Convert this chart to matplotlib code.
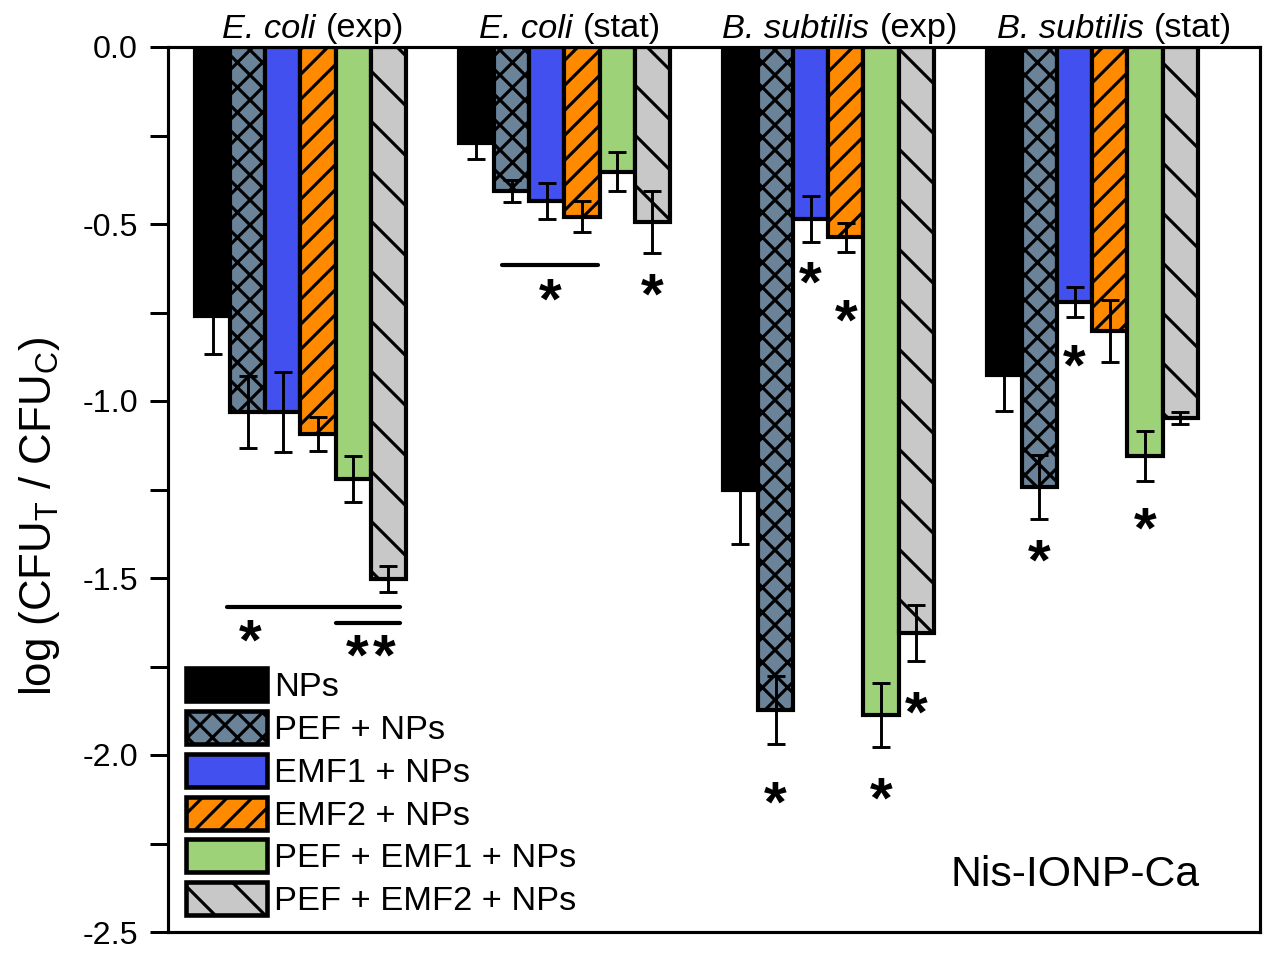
import numpy as np
import matplotlib
matplotlib.use("Agg")
import matplotlib.pyplot as plt
from matplotlib import transforms
from matplotlib.offsetbox import AnnotationBbox, HPacker, TextArea

plt.rcParams["font.family"] = ["Liberation Sans", "DejaVu Sans"]
plt.rcParams["mathtext.fontset"] = "custom"
plt.rcParams["mathtext.rm"] = "Liberation Sans"
plt.rcParams["mathtext.it"] = "Liberation Sans:italic"
plt.rcParams["hatch.linewidth"] = 1.5
plt.rcParams["hatch.color"] = "black"

# groups along x
species = ["E. coli", "E. coli", "B. subtilis", "B. subtilis"]
phases = ["(exp)", "(stat)", "(exp)", "(stat)"]
treatments = ["NPs", "PEF + NPs", "EMF1 + NPs", "EMF2 + NPs",
              "PEF + EMF1 + NPs", "PEF + EMF2 + NPs"]

# log(CFU_T / CFU_C), one value per strain
nps = [-0.76, -0.271, -1.251, -0.927]
nps_err = [0.107, 0.045, 0.153, 0.100]
pef = [-1.031, -0.407, -1.873, -1.243]
pef_err = [0.103, 0.031, 0.095, 0.090]
emf1 = [-1.031, -0.435, -0.486, -0.720]
emf1_err = [0.114, 0.052, 0.065, 0.042]
emf2 = [-1.093, -0.480, -0.537, -0.802]
emf2_err = [0.047, 0.044, 0.041, 0.088]
pef_emf1 = [-1.220, -0.353, -1.887, -1.155]
pef_emf1_err = [0.065, 0.055, 0.089, 0.070]
pef_emf2 = [-1.503, -0.494, -1.655, -1.048]
pef_emf2_err = [0.037, 0.088, 0.079, 0.018]

values = [nps, pef, emf1, emf2, pef_emf1, pef_emf2]
errors = [nps_err, pef_err, emf1_err, emf2_err, pef_emf1_err, pef_emf2_err]
colors = ["#000000", "#6a8399", "#4150ee", "#ff8a00", "#9dd278", "#c8c8c8"]
hatches = ["", "xx", "", "//", "", "\\"]

# significance marks: (group, bar position offset, y of glyph centre)
stars = [
    (0, -0.19, -1.647), (0, 0.214, -1.689), (0, 0.318, -1.689),
    (1, -0.055, -0.686), (1, 0.333, -0.672),
    (2, -0.067, -0.636), (2, 0.067, -0.743),
    (2, -0.2, -2.105), (2, 0.2, -2.093), (2, 0.333, -1.85),
    (3, -0.067, -0.870), (3, -0.2, -1.421), (3, 0.2, -1.331),
]
# bracket lines: (group, x start offset, x end offset, y)
brackets = [(0, -0.278, 0.377, -1.582), (0, 0.134, 0.377, -1.627),
            (1, -0.237, 0.127, -0.616)]
title_shift = [0.047, 0.023, 0.044, 0.085]

fig = plt.figure(figsize=(1267 / 150, 963 / 150), dpi=150)
ax = fig.add_axes([168 / 1267, 1 - 932 / 963, (1260 - 168) / 1267, (932 - 47) / 963])

x = np.arange(1, len(species) + 1)
width = 0.1333
for i, (vals, errs) in enumerate(zip(values, errors)):
    pos = x + (i - 2.5) * width
    ax.bar(pos, vals, width, color=colors[i], edgecolor="black", linewidth=2,
           hatch=hatches[i], label=treatments[i], zorder=2)
    ax.errorbar(pos, vals, yerr=errs, fmt="none", ecolor="black",
                elinewidth=1.4, capsize=4.2, capthick=1.4, zorder=3)

star_fs = 28
# asterisk sits high in the em box, shift baseline so the glyph centre lands on y
star_tr = transforms.offset_copy(ax.transData, fig, y=-0.5 * star_fs, units="points")
for g, off, y in stars:
    ax.text(x[g] + off, y, "*", ha="center", va="baseline", fontsize=star_fs,
            fontweight="bold", transform=star_tr, zorder=4)
for g, x0, x1, y in brackets:
    ax.plot([x[g] + x0, x[g] + x1], [y, y], color="black", lw=2,
            solid_capstyle="round", zorder=4)

# group titles: italic species name + upright growth phase
for g in range(len(species)):
    box = HPacker(children=[
        TextArea(species[g], textprops=dict(fontsize=16.5, style="italic")),
        TextArea(phases[g], textprops=dict(fontsize=16.5)),
    ], sep=5, pad=0, align="baseline")
    ab = AnnotationBbox(box, (x[g] + title_shift[g], 1.0),
                        xycoords=ax.get_xaxis_transform(),
                        xybox=(0, 1.2), boxcoords="offset points",
                        box_alignment=(0.5, 0), frameon=False, pad=0,
                        annotation_clip=False)
    ax.add_artist(ab)

ax.text(0.831, 0.064, "Nis-IONP-Ca", transform=ax.transAxes, ha="center",
        va="center", fontsize=20.5)

ax.set_xlim(0.498, 4.636)
ax.set_ylim(-2.5, 0.0)
ax.set_yticks(np.arange(-2.5, 0.01, 0.5))
ax.set_yticks(np.arange(-2.25, 0.0, 0.5), minor=True)
ax.yaxis.set_major_formatter(plt.FormatStrFormatter("%.1f"))
ax.set_xticks([])
ax.tick_params(axis="y", which="both", direction="out", length=8.6, width=1.44,
               labelsize=15.5, pad=5.8)
for s in ax.spines.values():
    s.set_linewidth(1.5)

ax.set_ylabel(r"log (CFU$_\mathrm{T}$ / CFU$_\mathrm{C}$)", fontsize=21)
ax.yaxis.set_label_coords(-0.097, 0.47)

leg = ax.legend(loc="upper left", bbox_to_anchor=(0.0165, 0.298), frameon=False,
                fontsize=16.5, handlelength=2.35, handleheight=1.1,
                handletextpad=0.2, labelspacing=0.22, borderpad=0,
                borderaxespad=0)
for h in leg.legend_handles:
    h.set_linewidth(2.2)

fig.savefig("out.png", dpi=150)
